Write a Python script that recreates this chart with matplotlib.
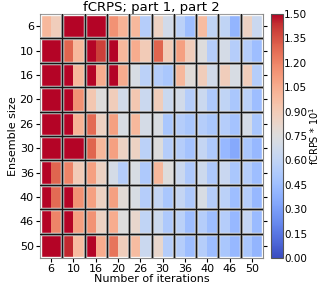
import numpy as np
import matplotlib
matplotlib.use("Agg")
import matplotlib.pyplot as plt
from matplotlib.patches import Rectangle

ensemble = [6, 10, 16, 20, 26, 30, 36, 40, 46, 50]
iterations = [6, 10, 16, 20, 26, 30, 36, 40, 46, 50]

# part 1 (left half of each cell), rows = ensemble size, cols = iterations
part1 = np.array([
    [1.00, 1.60, 1.60, 1.15, 1.00, 0.85, 0.58, 0.98, 0.60, 0.85],
    [1.60, 1.30, 1.50, 1.50, 1.05, 1.30, 1.10, 0.75, 0.70, 0.55],
    [1.60, 1.55, 1.55, 1.50, 0.72, 0.55, 1.00, 0.88, 0.88, 0.88],
    [1.60, 1.55, 0.92, 0.88, 0.92, 0.88, 0.68, 0.65, 0.60, 0.58],
    [1.60, 1.55, 1.28, 1.10, 1.00, 0.73, 0.55, 0.55, 0.55, 0.70],
    [1.60, 1.60, 1.30, 1.10, 0.85, 0.75, 0.55, 0.62, 0.42, 0.50],
    [1.55, 1.20, 1.10, 0.70, 0.72, 1.00, 0.65, 0.66, 0.64, 0.55],
    [1.55, 1.55, 1.10, 1.10, 0.72, 0.62, 0.62, 0.72, 0.58, 0.55],
    [1.55, 1.55, 1.15, 1.05, 0.82, 0.66, 0.58, 0.55, 0.55, 0.62],
    [1.60, 1.45, 1.50, 1.25, 0.98, 0.82, 0.55, 0.55, 0.50, 0.50],
])
# part 2 (right half of each cell)
part2 = np.array([
    [0.88, 1.60, 1.60, 1.02, 0.55, 0.68, 0.45, 0.60, 0.40, 0.65],
    [1.60, 1.00, 1.40, 1.00, 0.90, 0.90, 0.88, 0.55, 0.55, 0.45],
    [1.60, 1.00, 1.05, 1.05, 0.58, 0.50, 0.77, 0.68, 0.72, 0.55],
    [1.60, 1.15, 0.76, 0.68, 0.65, 0.65, 0.55, 0.52, 0.50, 0.45],
    [1.60, 1.02, 0.85, 0.72, 0.70, 0.50, 0.50, 0.50, 0.48, 0.50],
    [1.60, 1.60, 1.00, 0.85, 0.58, 0.55, 0.48, 0.52, 0.35, 0.42],
    [1.30, 0.90, 0.85, 0.55, 0.52, 0.75, 0.52, 0.52, 0.50, 0.45],
    [1.28, 1.15, 0.85, 0.78, 0.55, 0.50, 0.52, 0.55, 0.45, 0.42],
    [1.20, 1.10, 0.85, 0.75, 0.60, 0.52, 0.45, 0.45, 0.42, 0.43],
    [1.60, 0.98, 1.05, 0.88, 0.65, 0.55, 0.45, 0.44, 0.42, 0.40],
])

nr, nc = part1.shape
grid = np.empty((nr, 2 * nc))
grid[:, 0::2] = part1
grid[:, 1::2] = part2

fig = plt.figure(figsize=(3.2, 2.85), dpi=100)
ax = fig.add_axes([0.125, 0.095, 0.697, 0.856])
cax = fig.add_axes([0.847, 0.095, 0.037, 0.856])

xe = np.arange(0, nc + 0.01, 0.5)
ye = np.arange(0, nr + 1)
mesh = ax.pcolormesh(xe, ye, grid, cmap="coolwarm", vmin=0, vmax=1.5)
ax.set_xlim(0, nc)
ax.set_ylim(nr, 0)

for i in range(nr):
    for j in range(nc):
        ax.add_patch(Rectangle((j + 0.04, i + 0.04), 0.92, 0.92, fill=False,
                               edgecolor="#f6f6f6", lw=1.0, zorder=3))
for k in range(1, nc):
    ax.axvline(k, color="#aaaaaa", lw=2.2, zorder=4)
    ax.axvline(k, color="#151515", lw=0.9, zorder=5)
for k in range(1, nr):
    ax.axhline(k, color="#aaaaaa", lw=2.2, zorder=4)
    ax.axhline(k, color="#151515", lw=0.9, zorder=5)

ax.set_xticks(np.arange(nc) + 0.5)
ax.set_xticklabels([str(v) for v in iterations], fontsize=8)
ax.set_yticks(np.arange(nr) + 0.5)
ax.set_yticklabels([str(v) for v in ensemble], fontsize=8)
ax.tick_params(length=3, right=True, pad=1.5)
ax.set_xlabel("Number of iterations", fontsize=8, labelpad=0)
ax.set_ylabel("Ensemble size", fontsize=8, labelpad=1)
for s in ax.spines.values():
    s.set_color("#888888")
ax.set_title("fCRPS; part 1, part 2", fontsize=9.5, pad=1)

cb = fig.colorbar(mesh, cax=cax)
cb.set_ticks(np.arange(0, 1.51, 0.15))
cb.ax.set_yticklabels(["%.2f" % v for v in np.arange(0, 1.51, 0.15)], fontsize=7.5)
cb.ax.tick_params(length=0, pad=1)
cb.set_label("fCRPS * 10$^1$", fontsize=7, labelpad=0)
cb.outline.set_edgecolor("#555555")

fig.savefig("out.png", dpi=100)
